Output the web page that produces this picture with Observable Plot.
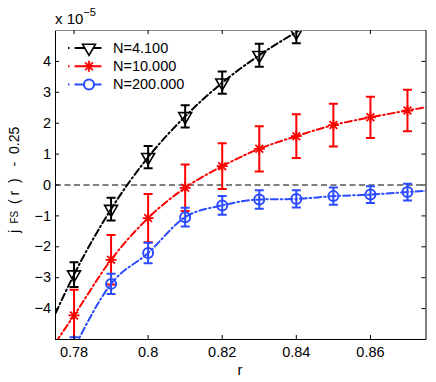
<!DOCTYPE html>
<html>
<head>
<meta charset="utf-8">
<script src="https://cdn.jsdelivr.net/npm/d3@7"></script>
<script src="https://cdn.jsdelivr.net/npm/@observablehq/plot@0.6"></script>
<style>
  html, body { margin: 0; padding: 0; background: #fff; }
</style>
</head>
<body>
<div id="chart"></div>
<script>
// ---- data ----
const rBlack = [0.78, 0.79, 0.80, 0.81, 0.82, 0.83, 0.84];
const n4100 = [-2.9, -0.78, 0.9, 2.22, 3.31, 4.2, 4.95];
const n4100Err = [0.4, 0.37, 0.36, 0.36, 0.36, 0.37, 0.36];

const rColor = [0.78, 0.79, 0.80, 0.81, 0.82, 0.83, 0.84, 0.85, 0.86, 0.87];
const n10000 = [-4.22, -2.42, -1.07, -0.09, 0.61, 1.17, 1.58, 1.94, 2.19, 2.41];
const n10000Err = [0.83, 0.8, 0.78, 0.75, 0.74, 0.73, 0.71, 0.69, 0.67, 0.67];
const n200000 = [-5.28, -3.2, -2.2, -1.04, -0.66, -0.47, -0.45, -0.36, -0.31, -0.23];
const n200000Err = [0.35, 0.33, 0.33, 0.3, 0.3, 0.3, 0.28, 0.28, 0.27, 0.27];

// dash-dot guide curves (extend past the measured points)
const fitRBlack = [0.775, 0.78, 0.79, 0.80, 0.81, 0.82, 0.83, 0.84, 0.845];
const fitBlack = [-4.15, -2.9, -0.78, 0.9, 2.22, 3.31, 4.2, 4.95, 5.3];
const fitRColor = [0.775, 0.78, 0.79, 0.80, 0.81, 0.82, 0.83, 0.84, 0.85, 0.86, 0.87, 0.875];
const fitRed = [-5.1, -4.22, -2.42, -1.07, -0.09, 0.61, 1.17, 1.58, 1.94, 2.19, 2.41, 2.52];
const fitBlue = [-6.5, -5.28, -3.2, -2.2, -1.04, -0.66, -0.47, -0.45, -0.36, -0.31, -0.23, -0.19];

const seriesNames = ["N=4.100", "N=10.000", "N=200.000"];
const xTicks = [0.78, 0.80, 0.82, 0.84, 0.86];
const xTickLabels = ["0.78", "0.8", "0.82", "0.84", "0.86"];
const yTicks = [-4, -3, -2, -1, 0, 1, 2, 3, 4];
const xDomain = [0.775, 0.875];
const yDomain = [-5, 5];

// ---- build tables ----
const pts = (rs, vs, es) => rs.map((r, i) => ({r, v: vs[i], e: es[i]}));
const crv = (rs, vs) => rs.map((r, i) => ({r, v: vs[i]}));
const black = pts(rBlack, n4100, n4100Err);
const red = pts(rColor, n10000, n10000Err);
const blue = pts(rColor, n200000, n200000Err);
const blackFit = crv(fitRBlack, fitBlack);
const redFit = crv(fitRColor, fitRed);
const blueFit = crv(fitRColor, fitBlue);

const BLACK = "#000000", RED = "#ff0000", BLUE = "#2a4bff";
const W = 436, H = 382;
const M = {left: 55, right: 10.5, top: 30, bottom: 43};
const frameW = W - M.left - M.right, frameH = H - M.top - M.bottom;
const tickLen = 4;
const dashDot = "7,3,1.5,3";
const FONT = "'Liberation Sans', Arial, Helvetica, sans-serif";
const FS = 14.5;

const cap = {draw(ctx, size) { const w = Math.sqrt(size / Math.PI); ctx.moveTo(-w, 0); ctx.lineTo(w, 0); }};

function errMarks(data, color) {
  return [
    Plot.ruleX(data, {x: "r", y1: d => d.v - d.e, y2: d => d.v + d.e, stroke: color, strokeWidth: 2}),
    Plot.dot(data, {x: "r", y: d => d.v - d.e, symbol: cap, r: 4.5, stroke: color, strokeWidth: 2}),
    Plot.dot(data, {x: "r", y: d => d.v + d.e, symbol: cap, r: 4.5, stroke: color, strokeWidth: 2})
  ];
}

const chart = Plot.plot({
  width: W, height: H,
  marginLeft: M.left, marginRight: M.right, marginTop: M.top, marginBottom: M.bottom,
  style: `font-family: ${FONT}; font-size: ${FS}px; background: #fff; color: #000;`,
  x: {domain: xDomain},
  y: {domain: yDomain},
  clip: true,
  marks: [
    Plot.ruleY([0], {stroke: "#000", strokeWidth: 1, strokeDasharray: "6,3.5"}),
    // N=4.100
    ...errMarks(black, BLACK),
    Plot.line(blackFit, {x: "r", y: "v", stroke: BLACK, strokeWidth: 2, strokeDasharray: dashDot, curve: "monotone-x"}),
    Plot.dot(black, {x: "r", y: "v", symbol: "triangle", rotate: 180, r: 4.8, stroke: BLACK, strokeWidth: 1.6, fill: "none"}),
    // N=10.000
    ...errMarks(red, RED),
    Plot.line(redFit, {x: "r", y: "v", stroke: RED, strokeWidth: 2, strokeDasharray: dashDot, curve: "monotone-x"}),
    Plot.dot(red, {x: "r", y: "v", symbol: "plus", r: 3.6, stroke: RED, strokeWidth: 1.8}),
    Plot.dot(red, {x: "r", y: "v", symbol: "times", r: 3.6, stroke: RED, strokeWidth: 1.8}),
    // N=200.000
    ...errMarks(blue, BLUE),
    Plot.line(blueFit, {x: "r", y: "v", stroke: BLUE, strokeWidth: 2, strokeDasharray: dashDot, curve: "monotone-x"}),
    Plot.dot(blue, {x: "r", y: "v", symbol: "circle", r: 5, stroke: BLUE, strokeWidth: 2, fill: "none"}),
    // box & inward ticks
    Plot.frame({stroke: "#000", strokeWidth: 1, clip: false}),
    Plot.ruleY([yDomain[1]], {stroke: "#8a8a8a", strokeWidth: 1, clip: false}),
    Plot.tickX(xTicks, {x: d => d, insetTop: frameH - tickLen, stroke: "#000", clip: false}),
    Plot.tickX(xTicks, {x: d => d, insetBottom: frameH - tickLen, stroke: "#000", clip: false}),
    Plot.tickY(yTicks, {y: d => d, insetRight: frameW - tickLen, stroke: "#000", clip: false}),
    Plot.tickY(yTicks, {y: d => d, insetLeft: frameW - tickLen, stroke: "#000", clip: false}),
    Plot.axisX({ticks: xTicks, tickSize: 0, tickPadding: 7.5, fontSize: FS, tickFormat: d => xTickLabels[xTicks.indexOf(d)], label: null}),
    Plot.axisY({ticks: yTicks, tickSize: 0, tickPadding: 4.5, fontSize: FS, tickFormat: d => d < 0 ? "\u2212" + Math.abs(d) : String(d), label: null})
  ]
});

document.getElementById("chart").appendChild(chart);

// ---- annotations: axis labels, exponent, legend ----
const svg = d3.select(chart);
const txt = (sel) => sel.attr("font-family", FONT).attr("text-anchor", "start").attr("fill", "#000");

// x label
txt(svg.append("text")).attr("x", 237.5).attr("y", 375).attr("font-size", FS).text("r");

// y label  j_FS ( r ) - 0.25  (reads bottom-to-top)
const yl = txt(svg.append("text")).attr("transform", "translate(18.5,233) rotate(-90)").attr("font-size", 14);
yl.append("tspan").attr("x", 0).text("j");
yl.append("tspan").attr("x", 9.5).attr("font-size", 10).attr("dy", -0.5).text("FS");
yl.append("tspan").attr("x", 29).attr("dy", 0.5).text("(");
yl.append("tspan").attr("x", 37.5).text("r");
yl.append("tspan").attr("x", 50).text(")");
yl.append("tspan").attr("x", 66.5).text("-");
yl.append("tspan").attr("x", 79).text("0.25");

// exponent label
const ex = txt(svg.append("text")).attr("x", 55).attr("y", 23.5).attr("font-size", 15);
ex.append("tspan").text("x 10");
ex.append("tspan").attr("font-size", 11).attr("dy", -8).text("\u22125");

// legend
const lg = svg.append("g");
const legColors = [BLACK, RED, BLUE];
seriesNames.forEach((name, i) => {
  const y = 48 + i * 18.2;
  const c = legColors[i];
  lg.append("line").attr("x1", 68).attr("x2", 104).attr("y1", y).attr("y2", y)
    .attr("stroke", c).attr("stroke-width", 2).attr("stroke-dasharray", "1.5,5,27,100");
  const g = lg.append("g").attr("transform", `translate(89,${y})`).attr("fill", "#fff").attr("stroke", c);
  if (i === 0) {
    g.append("path").attr("d", d3.symbol(d3.symbolTriangle, Math.PI * 4.8 * 4.8)()).attr("transform", "rotate(180)").attr("stroke-width", 1.6);
  } else if (i === 1) {
    g.append("path").attr("d", d3.symbol(d3.symbolPlus, Math.PI * 3.6 * 3.6)()).attr("fill", "none").attr("stroke-width", 1.8);
    g.append("path").attr("d", d3.symbol(d3.symbolTimes, Math.PI * 3.6 * 3.6)()).attr("fill", "none").attr("stroke-width", 1.8);
  } else {
    g.append("circle").attr("r", 5).attr("stroke-width", 2);
  }
  txt(lg.append("text")).attr("x", 113).attr("y", y + 5).attr("font-size", FS).text(name);
});
</script>
</body>
</html>
